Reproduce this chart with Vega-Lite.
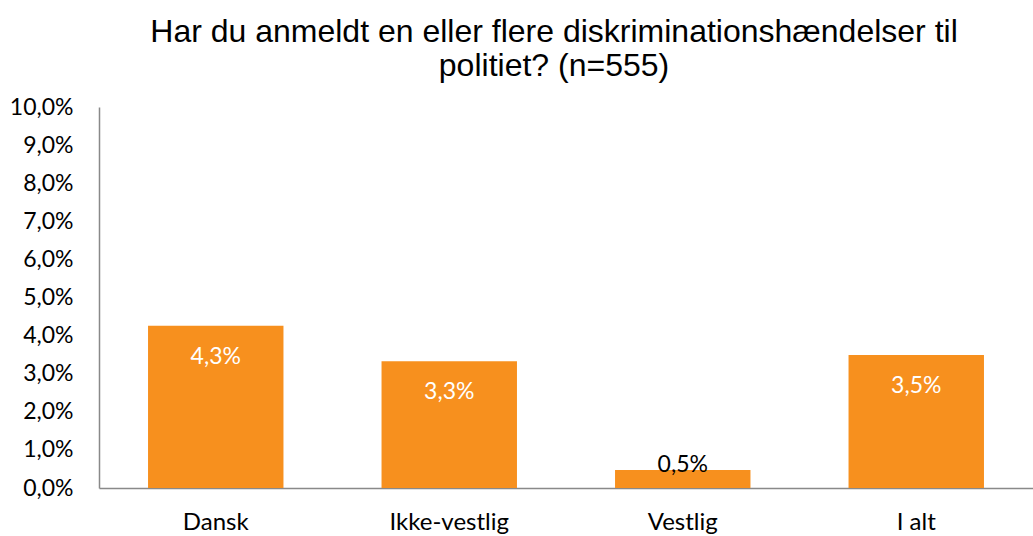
{
  "$schema": "https://vega.github.io/schema/vega-lite/v6.json",
  "width": 934,
  "height": 381,
  "autosize": {"type": "none"},
  "padding": {"left": 99, "top": 107, "right": 0, "bottom": 48},
  "background": "white",
  "config": {
    "view": {"stroke": null},
    "locale": {"number": {"decimal": ",", "thousands": ".", "grouping": [3], "currency": ["", " kr."]}}
  },
  "title": {
    "text": ["Har du anmeldt en eller flere diskriminationshændelser til", "politiet? (n=555)"],
    "font": "Liberation Sans",
    "fontSize": 32,
    "fontWeight": "normal",
    "color": "#000000",
    "anchor": "middle",
    "dx": -12,
    "offset": 13,
    "lineHeight": 34
  },
  "data": {
    "values": [
      {"gruppe": "Dansk", "andel": 0.0426},
      {"gruppe": "Ikke-vestlig", "andel": 0.0333},
      {"gruppe": "Vestlig", "andel": 0.0047},
      {"gruppe": "I alt", "andel": 0.0349}
    ]
  },
  "encoding": {
    "x": {
      "field": "gruppe",
      "type": "nominal",
      "sort": null,
      "scale": {"paddingInner": 0.42, "paddingOuter": 0.21},
      "axis": {
        "title": null,
        "labelAngle": 0,
        "labelFont": "Lato",
        "labelFontSize": 24,
        "labelColor": "#000000",
        "labelPadding": 22,
        "ticks": false,
        "domainColor": "#898989",
        "domainWidth": 1.5
      }
    },
    "y": {
      "field": "andel",
      "type": "quantitative",
      "scale": {"domain": [0, 0.1]},
      "axis": {
        "title": null,
        "format": ".1%",
        "values": [0, 0.01, 0.02, 0.03, 0.04, 0.05, 0.06, 0.07, 0.08, 0.09, 0.1],
        "grid": false,
        "ticks": false,
        "labelFont": "Lato",
        "labelFontSize": 23,
        "labelColor": "#000000",
        "labelPadding": 26,
        "domainColor": "#898989",
        "domainWidth": 1.5
      }
    }
  },
  "layer": [
    {"mark": {"type": "bar", "color": "#F7901E"}},
    {
      "transform": [{"filter": "datum.andel > 0.01"}],
      "mark": {"type": "text", "font": "Lato", "fontSize": 23, "color": "#FFFFFF", "baseline": "middle", "dy": 31},
      "encoding": {"text": {"field": "andel", "type": "quantitative", "format": ".1%"}}
    },
    {
      "transform": [{"filter": "datum.andel <= 0.01"}],
      "mark": {"type": "text", "font": "Lato", "fontSize": 23, "color": "#000000", "baseline": "middle", "dy": -5},
      "encoding": {"text": {"field": "andel", "type": "quantitative", "format": ".1%"}}
    }
  ]
}
